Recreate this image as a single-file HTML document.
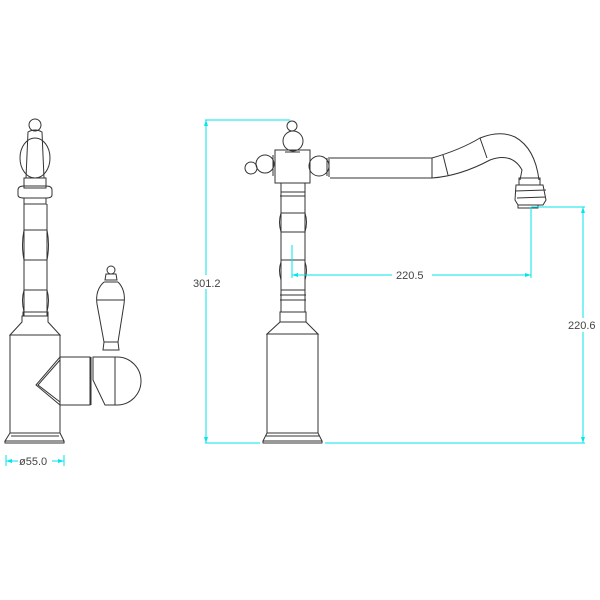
<!DOCTYPE html>
<html><head><style>body{margin:0;background:#fff}svg{display:block}</style></head><body>
<svg width="600" height="600" viewBox="0 0 600 600" xmlns="http://www.w3.org/2000/svg">
<rect width="600" height="600" fill="#fff"/>
<g fill="none" stroke="#333" stroke-width="1">
<!-- LEFT VIEW -->
<circle cx="35" cy="125" r="6"/>
<path d="M28 132 Q35 128 42 132 L44 178 L26 178 Z"/>
<ellipse cx="35" cy="158" rx="15" ry="20"/>
<rect x="24" y="178" width="22" height="10"/>
<path d="M18 190 Q18 186 24 186 L46 186 Q52 186 52 190 L52 195 Q52 198 46 198 L24 198 Q18 198 18 195 Z"/>
<rect x="24" y="198" width="22" height="6"/>
<path d="M24 204 L24 316 M47 204 L47 316"/>
<path d="M24 230 Q21 245 24 260 M47 230 Q50 245 47 260 M24 260 L47 260 M24 230 L47 230"/>
<path d="M24 290 Q21 300 24 312 M47 290 Q50 300 47 312 M24 290 L47 290"/>
<rect x="23" y="312" width="25" height="4"/>
<path d="M22 316 L48 316 L48 322 L60 335 L10 335 L22 322 Z"/>
<rect x="10" y="335" width="50" height="98"/>
<path d="M10 433 L5 441 L64 441 L60 433 M5 441 L5 443 L64 443 L64 441 M11 436 L59 436"/>
<path d="M60 357 L90 357 L90 405 L60 405 L36 385 Z"/>
<path d="M60 360 L38 385 L60 402"/>
<path d="M93 357 L117 357 A24 24 0 0 1 117 405 L105 405 L93 380 Z"/>
<path d="M115 357 L115 405 M90 357 L90 405 M91 357 L91 405"/>
<circle cx="111" cy="270" r="4"/>
<path d="M106 274 L116 274 L117 280 L105 280 Z M104 282 L118 282"/>
<path d="M104 282 Q95 290 97 304 L104 342 L103 350 L119 350 L118 342 L124 304 Q126 290 118 282"/>
<path d="M97 300 L124 300 M104 342 L118 342"/>
<!-- RIGHT VIEW -->
<circle cx="292" cy="126" r="5"/>
<circle cx="293" cy="141" r="10"/>
<rect x="275" y="150" width="35" height="33"/>
<path d="M285 150 L300 150 M285 152 L300 152"/>
<circle cx="251" cy="168" r="6"/>
<circle cx="265" cy="164" r="9"/>
<path d="M273 155 L273 176 M275 153 L275 180"/>
<circle cx="319" cy="166" r="10"/>
<path d="M327 158 L327 176 M329 157 L329 177"/>
<path d="M330 158 L432 158 M330 178 L432 178 M432 158 L432 178"/>
<path d="M432 158 Q460 150 480 138 Q500 130 515 137 Q535 148 539 180"/>
<path d="M432 178 Q460 176 490 160 Q512 152 522 170 L520 180"/>
<path d="M443 155 L448 175 M480 138 L487 158"/>
<rect x="519" y="178" width="21" height="7"/>
<path d="M516 185 L543 185 L546 200 L543 205 L518 205 L515 200 Z M515 191 L546 190 M517 198 L545 197 M518 205 L518 208 L538 208 L538 205"/>
<path d="M281 183 L305 183 M281 183 L281 312 M305 183 L305 312 M281 192 L305 192 M280 196 L305 196 M281 213 Q278 222 281 232 M305 213 Q308 222 305 232 M281 213 L305 213 M281 232 L305 232 M281 260 L305 260 M281 262 Q278 270 281 280 M305 262 Q308 270 305 280 M281 290 L305 290 M280 295 L306 295 M280 300 L306 300"/>
<path d="M280 312 L306 312 L306 322 L318 334 L267 334 L280 322 Z M280 322 L306 322"/>
<rect x="267" y="334" width="51" height="99"/>
<path d="M267 433 L263 441 L322 441 L318 433 M263 441 L263 443 L322 443 L322 441 M266 436 L319 436"/>
</g>
<g stroke="#00e5ee" stroke-width="1" fill="none">
<path d="M205 120 L290 120 M205 443 L260 443 M325 443 L585 443 M206 120 L206 443"/>
<path d="M531 207 L585 207 M583 207 L583 443 M531 207 L531 278 M292 245 L292 278 M292 275 L392 275 M432 275 L531 275"/>
<path d="M6 455 L6 466 M64 455 L64 466 M6 461 L18 461 M52 461 L64 461"/>
</g>
<g fill="#00e5ee">
<path d="M206 120 l-2 6 l4 0 Z M206 443 l-2 -6 l4 0 Z M583 207 l-2 6 l4 0 Z M583 443 l-2 -6 l4 0 Z M292 275 l6 -2 l0 4 Z M531 275 l-6 -2 l0 4 Z M6 461 l6 -2 l0 4 Z M64 461 l-6 -2 l0 4 Z"/>
</g>
<g font-family="Liberation Sans, sans-serif" font-size="11" fill="#444">
<rect x="190" y="275" width="32" height="14" fill="#fff"/>
<text x="193" y="287">301.2</text>
<text x="396" y="279">220.5</text>
<rect x="567" y="318" width="32" height="14" fill="#fff"/>
<text x="568" y="329">220.6</text>
<text x="19" y="465">ø55.0</text>
</g>
</svg>
</body></html>
